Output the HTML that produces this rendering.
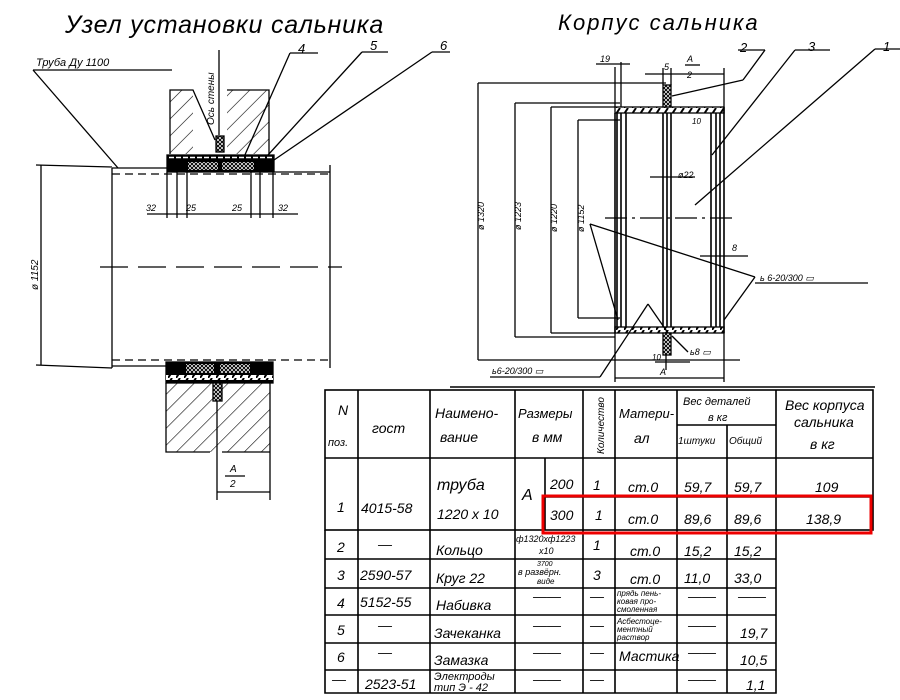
<!DOCTYPE html>
<html><head><meta charset="utf-8"><style>
html,body{margin:0;padding:0;background:#fff;}
svg{display:block;}
text{font-family:"Liberation Sans",sans-serif;font-style:italic;fill:#000;}
</style></head><body>
<svg width="900" height="700" viewBox="0 0 900 700" xmlns="http://www.w3.org/2000/svg">
<defs>
<pattern id="hatch" width="12" height="12" patternUnits="userSpaceOnUse" patternTransform="rotate(45)">
<line x1="0" y1="0" x2="0" y2="12" stroke="#000" stroke-width="1.2"/></pattern>
<pattern id="cross" width="4" height="4" patternUnits="userSpaceOnUse">
<rect width="4" height="4" fill="#fff"/><path d="M0 0L4 4M4 0L0 4" stroke="#000" stroke-width="1"/></pattern>
<pattern id="dash" width="8" height="6" patternUnits="userSpaceOnUse">
<rect width="8" height="6" fill="#fff"/><path d="M0 6L4 0" stroke="#000" stroke-width="2"/></pattern>
</defs>
<g stroke="#000" fill="none" stroke-width="1.3">
<text x="65" y="33" font-size="25" stroke="none" letter-spacing="0.8">Узел   установки   сальника</text>
<text x="36" y="66" font-size="11" stroke="none">Труба  Ду  1100</text>
<line x1="33" y1="70" x2="172" y2="70"/>
<line x1="33" y1="70" x2="118" y2="168"/>
<text x="298" y="53" font-size="13" stroke="none">4</text><line x1="290" y1="53" x2="318" y2="53"/>
<text x="370" y="50" font-size="13" stroke="none">5</text><line x1="362" y1="52" x2="388" y2="52"/>
<text x="440" y="50" font-size="13" stroke="none">6</text><line x1="432" y1="52" x2="450" y2="52"/>
<line x1="290" y1="53" x2="244" y2="157"/>
<line x1="362" y1="52" x2="268" y2="155"/>
<line x1="432" y1="52" x2="274" y2="160"/>
<rect x="170" y="90" width="23" height="64" fill="url(#hatch)" stroke="none"/>
<rect x="227" y="90" width="42" height="64" fill="url(#hatch)" stroke="none"/>
<path d="M170 154V90H193L215 140M227 90H269V154"/>
<rect x="216" y="136" width="8" height="16" fill="url(#cross)"/>
<line x1="219" y1="50" x2="219" y2="135"/>
<text transform="translate(214,125) rotate(-90)" font-size="10" stroke="none">Ось стены</text>
<rect x="167" y="155" width="107" height="17" fill="#000"/>
<rect x="188" y="162" width="30" height="8" fill="url(#cross)" stroke="none"/>
<rect x="222" y="162" width="32" height="8" fill="url(#cross)" stroke="none"/>
<line x1="169" y1="157.5" x2="272" y2="157.5" stroke="#fff" stroke-width="1.5" stroke-dasharray="5 2"/>
<line x1="112" y1="168" x2="167" y2="168"/>
<line x1="112" y1="174" x2="330" y2="174" stroke-dasharray="8 5"/>
<line x1="274" y1="172" x2="330" y2="172"/>
<line x1="112" y1="168" x2="112" y2="368"/>
<line x1="330" y1="165" x2="330" y2="368"/>
<line x1="112" y1="360" x2="330" y2="360" stroke-dasharray="8 5"/>
<line x1="112" y1="366" x2="167" y2="366"/>
<line x1="100" y1="267" x2="342" y2="267" stroke-dasharray="28 10"/>
<line x1="36" y1="165" x2="112" y2="167"/>
<line x1="36" y1="365" x2="112" y2="368"/>
<line x1="41" y1="165" x2="41" y2="365"/>
<text transform="translate(38,290) rotate(-90)" font-size="10" stroke="none">ø 1152</text>
<path d="M167 172V218M177 172V218M187 172V218M251 172V218M260 172V218M273 172V218"/>
<line x1="147" y1="214" x2="298" y2="214"/>
<text x="146" y="211" font-size="9" stroke="none">32</text>
<text x="186" y="211" font-size="9" stroke="none">25</text>
<text x="232" y="211" font-size="9" stroke="none">25</text>
<text x="278" y="211" font-size="9" stroke="none">32</text>
<rect x="166" y="362" width="107" height="21" fill="#000"/>
<rect x="186" y="364" width="28" height="9" fill="url(#cross)" stroke="none"/>
<rect x="220" y="364" width="30" height="9" fill="url(#cross)" stroke="none"/>
<rect x="166" y="375" width="107" height="5" fill="url(#dash)" stroke="none"/>
<rect x="166" y="383" width="104" height="69" fill="url(#hatch)" stroke="none"/>
<path d="M166 383V452H210M222 452H270V383M217 383V500M270 452V500"/>
<rect x="213" y="383" width="9" height="18" fill="url(#cross)"/>
<text x="230" y="472" font-size="10" stroke="none">A</text>
<line x1="225" y1="476" x2="245" y2="476"/>
<text x="230" y="487" font-size="10" stroke="none">2</text>
<line x1="217" y1="492" x2="270" y2="492"/>

<text x="558" y="30" font-size="22" stroke="none" letter-spacing="2">Корпус    сальника</text>
<text x="740" y="52" font-size="13" stroke="none">2</text><line x1="738" y1="50" x2="765" y2="50"/>
<text x="808" y="51" font-size="13" stroke="none">3</text><line x1="795" y1="50" x2="830" y2="50"/>
<text x="883" y="51" font-size="13" stroke="none">1</text><line x1="875" y1="49" x2="900" y2="49"/>
<line x1="765" y1="50" x2="743" y2="80"/><line x1="743" y1="80" x2="672" y2="96"/>
<line x1="795" y1="50" x2="712" y2="155"/>
<line x1="875" y1="49" x2="695" y2="205"/>
<path d="M478 83H666M515 103H620M551 107H615M578 120H620M478 360H740M515 337H615M551 333H615M578 318H620"/>
<path d="M478 83V360M515 103V337M551 107V333M578 120V318"/>
<text transform="translate(484,230) rotate(-90)" font-size="9" stroke="none">ø 1320</text>
<text transform="translate(521,230) rotate(-90)" font-size="9" stroke="none">ø 1223</text>
<text transform="translate(557,232) rotate(-90)" font-size="9" stroke="none">ø 1220</text>
<text transform="translate(584,232) rotate(-90)" font-size="9" stroke="none">ø 1152</text>
<rect x="615" y="107" width="109" height="6" fill="url(#dash)"/>
<rect x="615" y="327" width="109" height="6" fill="url(#dash)"/>
<rect x="663" y="85" width="8" height="22" fill="url(#cross)"/>
<rect x="663" y="333" width="8" height="22" fill="url(#cross)"/>
<path d="M617 113V327M621 113V327M626 113V327M663 113V327M667 113V327M671 113V327M711 113V327M716 113V327M720 113V327M724 107V333" stroke-width="1.6"/>
<path d="M615 113V333" stroke-width="1.6"/>
<line x1="605" y1="218" x2="735" y2="218" stroke-dasharray="22 5 3 5"/>
<path d="M615 67V107M621 62V107M596 64H630"/>
<text x="600" y="62" font-size="9" stroke="none">19</text>
<path d="M663 68V85M671 68V85M645 74H724M724 68V107"/>
<text x="664" y="70" font-size="9" stroke="none">5</text>
<text x="687" y="62" font-size="9" stroke="none">A</text><line x1="685" y1="65" x2="700" y2="65"/><text x="687" y="78" font-size="9" stroke="none">2</text>
<text x="692" y="124" font-size="8" stroke="none">10</text>
<text x="678" y="178" font-size="9" stroke="none">ø22</text><line x1="650" y1="177" x2="695" y2="177"/>
<text x="732" y="251" font-size="9" stroke="none">8</text><line x1="700" y1="256" x2="748" y2="256"/>
<line x1="590" y1="224" x2="755" y2="277"/>
<line x1="590" y1="224" x2="618" y2="320"/>
<line x1="755" y1="277" x2="724" y2="320"/>
<text x="760" y="281" font-size="9" stroke="none">ь 6-20/300 ▭</text>
<line x1="755" y1="283" x2="868" y2="283"/>
<line x1="648" y1="304" x2="668" y2="333"/>
<line x1="648" y1="304" x2="600" y2="377"/>
<line x1="490" y1="377" x2="600" y2="377"/>
<text x="492" y="374" font-size="9" stroke="none">ь6-20/300 ▭</text>
<line x1="672" y1="336" x2="688" y2="352"/>
<text x="690" y="355" font-size="9" stroke="none">ь8 ▭</text>
<path d="M666 355V370M655 362H690"/><text x="652" y="360" font-size="8" stroke="none">10</text>
<path d="M615 333V382M724 333V382M615 378H724"/>
<text x="660" y="375" font-size="9" stroke="none">A</text>
<line x1="450" y1="387" x2="875" y2="387" stroke-width="1.5"/>

<g stroke-width="1.6">
<rect x="325" y="390" width="548" height="140"/>
<path d="M325 530V693H776V530"/>
<path d="M358 390V693M430 390V693M515 390V693M583 390V693M615 390V693M677 390V693M727 425V693M776 390V530"/>
<path d="M677 425H776M325 458H873M545 458V530M545 497H873M325 559H776M325 588H776M325 615H776M325 643H776M325 670H776"/>
</g>
<g stroke="none" font-size="14">
<text x="338" y="415">N</text><text x="328" y="446" font-size="11">поз.</text>
<text x="372" y="433">гост</text>
<text x="435" y="418">Наимено-</text><text x="440" y="442">вание</text>
<text x="518" y="418" font-size="13">Размеры</text><text x="532" y="442">в мм</text>
<text transform="translate(604,454) rotate(-90)" font-size="10">Количество</text>
<text x="619" y="418" font-size="13">Матери-</text><text x="634" y="443">ал</text>
<text x="683" y="405" font-size="11">Вес деталей</text><text x="708" y="421" font-size="11">в кг</text>
<text x="678" y="444" font-size="10">1штуки</text><text x="729" y="444" font-size="10">Общий</text>
<text x="785" y="410">Вес корпуса</text><text x="794" y="427">сальника</text><text x="810" y="449">в кг</text>
<text x="337" y="512">1</text><text x="361" y="513">4015-58</text>
<text x="437" y="490" font-size="16">труба</text><text x="437" y="519">1220 х 10</text>
<text x="522" y="500" font-size="16">A</text>
<text x="550" y="489">200</text><text x="550" y="520">300</text>
<text x="593" y="490">1</text><text x="595" y="520">1</text>
<text x="628" y="492">ст.0</text><text x="628" y="524">ст.0</text>
<text x="684" y="492">59,7</text><text x="734" y="492">59,7</text><text x="815" y="492">109</text>
<text x="684" y="524">89,6</text><text x="734" y="524">89,6</text><text x="806" y="524">138,9</text>
<text x="337" y="552">2</text><text x="378" y="549">—</text><text x="436" y="555">Кольцо</text>
<text x="516" y="542" font-size="9">ф1320хф1223</text><text x="539" y="554" font-size="9">х10</text>
<text x="593" y="550">1</text><text x="630" y="556">ст.0</text><text x="684" y="556">15,2</text><text x="734" y="556">15,2</text>
<text x="337" y="580">3</text><text x="360" y="580">2590-57</text><text x="436" y="583">Круг 22</text>
<text x="537" y="566" font-size="7">3700</text><text x="518" y="575" font-size="9">в развёрн.</text><text x="537" y="584" font-size="8">виде</text>
<text x="593" y="580">3</text><text x="630" y="584">ст.0</text><text x="684" y="583">11,0</text><text x="734" y="583">33,0</text>
<text x="337" y="608">4</text><text x="360" y="607">5152-55</text><text x="436" y="610">Набивка</text>
<text x="533" y="601">——</text><text x="590" y="601">—</text>
<text x="617" y="596" font-size="8">прядь пень-</text><text x="617" y="604" font-size="8">ковая про-</text><text x="617" y="612" font-size="8">смоленная</text>
<text x="688" y="601">——</text><text x="738" y="601">——</text>
<text x="337" y="635">5</text><text x="378" y="630">—</text><text x="434" y="638">Зачеканка</text>
<text x="533" y="630">——</text><text x="590" y="630">—</text>
<text x="617" y="624" font-size="8">Асбестоце-</text><text x="617" y="632" font-size="8">ментный</text><text x="617" y="640" font-size="8">раствор</text>
<text x="688" y="630">——</text><text x="740" y="638">19,7</text>
<text x="337" y="662">6</text><text x="378" y="657">—</text><text x="434" y="665">Замазка</text>
<text x="533" y="657">——</text><text x="590" y="657">—</text><text x="619" y="661">Мастика</text>
<text x="688" y="657">——</text><text x="740" y="665">10,5</text>
<text x="332" y="684">—</text><text x="365" y="689">2523-51</text>
<text x="434" y="680" font-size="11">Электроды</text><text x="434" y="691" font-size="11">тип Э - 42</text>
<text x="533" y="684">——</text><text x="590" y="684">—</text><text x="688" y="684">——</text><text x="746" y="690">1,1</text>
</g>
<rect x="543" y="496" width="328" height="37" stroke="#e00" stroke-width="3" fill="none"/>
</g>
</svg>
</body></html>
